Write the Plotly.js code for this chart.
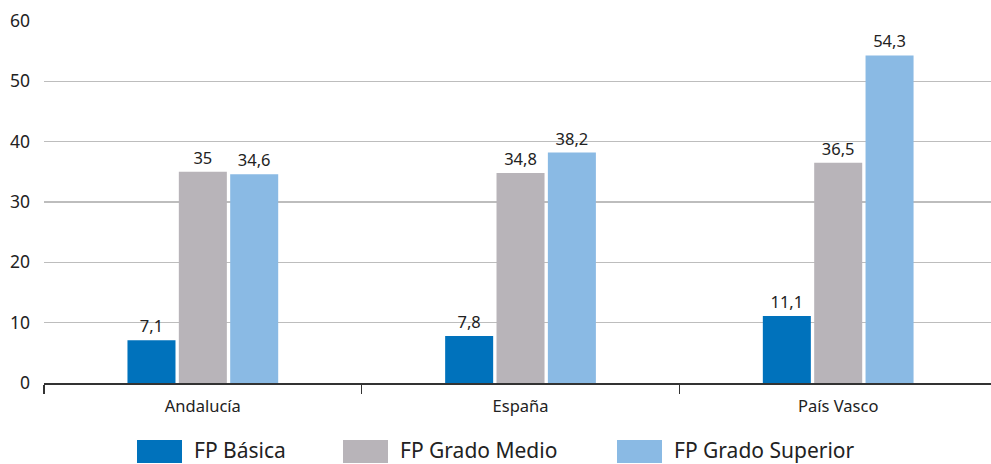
<!DOCTYPE html>
<html><head><meta charset="utf-8">
<script src="https://cdn.plot.ly/plotly-3.0.1.min.js"></script>
<style>html,body{margin:0;padding:0;background:#fff}#chart{width:991px;height:464px}</style>
</head><body><div id="chart"></div>
<script>
var categories = ["Andalucía", "España", "País Vasco"];
var seriesNames = ["FP Básica", "FP Grado Medio", "FP Grado Superior"];
var basica = [7.1, 7.8, 11.1];
var medio = [35, 34.8, 36.5];
var superior = [34.6, 38.2, 54.3];
var yTicks = [0, 10, 20, 30, 40, 50, 60];
var colors = ["#0072BC", "#B8B4B9", "#8ABAE4"];
var FONT = "Noto Sans, Open Sans, sans-serif";

function fmt(v){ return String(v).replace('.', ','); }
var allSeries = [basica, medio, superior];
var traces = allSeries.map(function(vals, i){
  return {
    type: 'bar', x: categories, y: vals, name: seriesNames[i],
    marker: {color: colors[i]},
    text: vals.map(fmt), textposition: 'outside', cliponaxis: false,
    textfont: {family: FONT, size: 16.5, color: '#222'},
    hoverinfo: 'none', showlegend: false
  };
});

var shapes = [], annotations = [];
var legX = [137, 343, 617];
var W = 991, H = 464;
var mL = 44, mR = 0, mT = 21, mB = 81;
legX.forEach(function(x, i){
  shapes.push({type:'rect', xref:'paper', yref:'paper',
    x0:(x-mL)/(W-mL-mR), x1:(x+45-mL)/(W-mL-mR),
    y0:-(463-383)/(383-mT), y1:-(440-383)/(383-mT),
    fillcolor: colors[i], line:{width:0}});
  annotations.push({xref:'paper', yref:'paper', x:(x+55-mL)/(W-mL-mR), y:-(450-383)/(383-mT),
    xanchor:'left', yanchor:'middle', text: seriesNames[i], showarrow:false,
    font:{family:FONT, size:21, color:'#222'}});
});

var layout = {
  width: W, height: H,
  margin: {l: mL, r: mR, t: mT, b: mB},
  paper_bgcolor: '#fff', plot_bgcolor: '#fff',
  barmode: 'group', bargap: 0.515, bargroupgap: 0.065,
  showlegend: false,
  font: {family: FONT, size: 16, color: '#222'},
  xaxis: {
    range: [-0.5, 2.481], tickson: 'boundaries', ticks: 'outside', ticklen: 9, tickwidth: 1.5, tickcolor: '#333',
    showline: true, linecolor: '#333', linewidth: 1.5, showgrid: false, zeroline: false,
    tickfont: {family: FONT, size: 16.5, color: '#222'}, ticklabelstandoff: 8, fixedrange: true
  },
  yaxis: {
    range: [0, 60], tickvals: yTicks, ticktext: yTicks.map(String), showgrid: true, gridcolor: '#BDBDBD', gridwidth: 1.5,
    zeroline: false, showline: false, ticks: '', ticklabelstandoff: 13,
    tickfont: {family: FONT, size: 17.5, color: '#222'}, fixedrange: true
  },
  shapes: shapes, annotations: annotations
};
Plotly.newPlot('chart', traces, layout, {displayModeBar: false, staticPlot: true});
</script></body></html>
